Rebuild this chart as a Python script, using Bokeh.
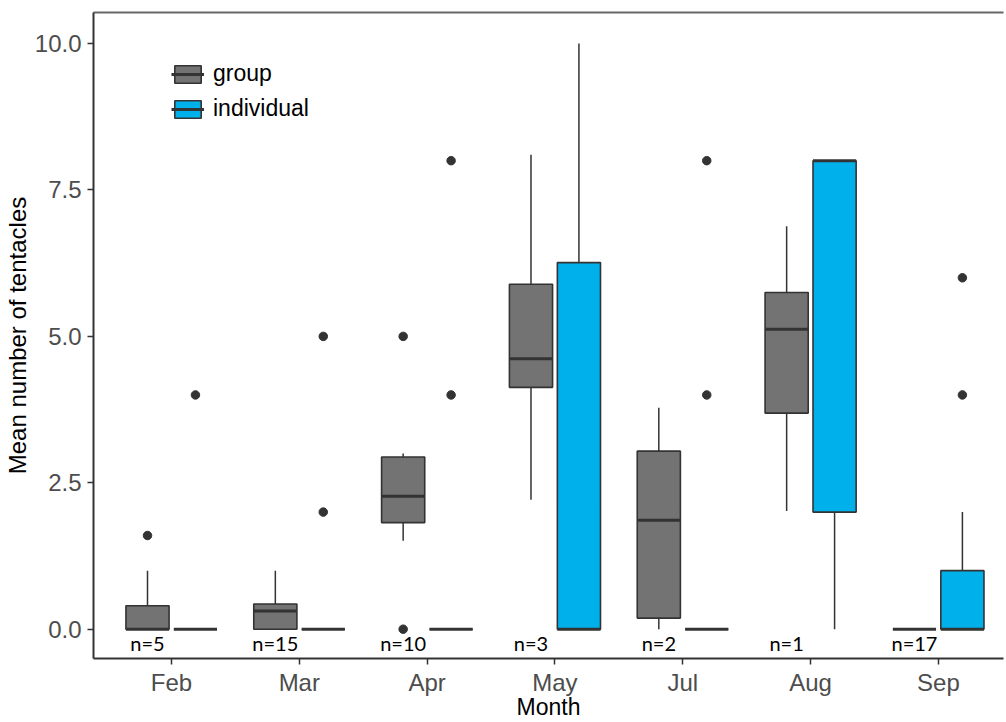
from bokeh.plotting import figure
from bokeh.models import (ColumnDataSource, Range1d, FixedTicker, LinearAxis,
                          Legend, LegendItem)
from bokeh.transform import dodge
from bokeh.core.properties import value
from bokeh.embed import file_html
from bokeh.resources import INLINE

# ---------------- data ----------------
months = ["Feb", "Mar", "Apr", "May", "Jul", "Aug", "Sep"]
n_counts = [5, 15, 10, 3, 2, 1, 17]

group_lower_whisker = [0.0, 0.0, 1.51, 2.21, 0.0, 2.02, 0.0]
group_q1 = [0.0, 0.0, 1.82, 4.13, 0.19, 3.69, 0.0]
group_median = [0.0, 0.31, 2.27, 4.62, 1.86, 5.12, 0.0]
group_q3 = [0.40, 0.43, 2.94, 5.89, 3.04, 5.75, 0.0]
group_upper_whisker = [1.0, 1.0, 3.0, 8.1, 3.78, 6.88, 0.0]

indiv_lower_whisker = [0.0, 0.0, 0.0, 0.0, 0.0, 0.0, 0.0]
indiv_q1 = [0.0, 0.0, 0.0, 0.0, 0.0, 2.0, 0.0]
indiv_median = [0.0, 0.0, 0.0, 0.0, 0.0, 8.0, 0.0]
indiv_q3 = [0.0, 0.0, 0.0, 6.26, 0.0, 8.0, 1.0]
indiv_upper_whisker = [0.0, 0.0, 0.0, 10.0, 0.0, 8.0, 2.0]

group_outlier_month = ["Feb", "Apr", "Apr"]
group_outlier_value = [1.6, 0.0, 5.0]
indiv_outlier_month = ["Feb", "Mar", "Mar", "Apr", "Apr", "Jul", "Jul", "Sep", "Sep"]
indiv_outlier_value = [4.0, 2.0, 5.0, 4.0, 8.0, 4.0, 8.0, 4.0, 6.0]

y_ticks = [0.0, 2.5, 5.0, 7.5, 10.0]

# ---------------- styling ----------------
GROUP_FILL = "#737373"
INDIV_FILL = "#00B0EB"
EDGE = "#333333"
FONT = "Liberation Sans"
DODGE = 0.1875
BOX_W = 0.3375

pos = {m: i + 1 for i, m in enumerate(months)}

p = figure(width=1006, height=722,
           x_range=Range1d(0.39, 7.509), y_range=Range1d(-0.5, 10.53),
           output_backend="svg", toolbar_location=None,
           min_border_left=93, min_border_right=3, min_border_top=12,
           min_border_bottom=64,
           x_axis_label="Month", y_axis_label="Mean number of tentacles")
p.xgrid.visible = False
p.ygrid.visible = False
p.outline_line_color = None
p.outline_line_alpha = 0
p.background_fill_color = "white"
p.border_fill_color = "white"

series = [
    ("group", -DODGE, GROUP_FILL, group_lower_whisker, group_q1, group_median,
     group_q3, group_upper_whisker, group_outlier_month, group_outlier_value),
    ("individual", DODGE, INDIV_FILL, indiv_lower_whisker, indiv_q1, indiv_median,
     indiv_q3, indiv_upper_whisker, indiv_outlier_month, indiv_outlier_value),
]

legend_items = []
for (name, off, fill, lo, q1, med, q3, hi, om, ov) in series:
    src = ColumnDataSource(dict(x=[pos[m] for m in months], lo=lo, q1=q1,
                                med=med, q3=q3, hi=hi))
    xd = dodge("x", off)
    p.segment(x0=xd, x1=xd, y0="q3", y1="hi", source=src,
              line_color=EDGE, line_width=1.5)
    p.segment(x0=xd, x1=xd, y0="lo", y1="q1", source=src,
              line_color=EDGE, line_width=1.5)
    # legend-only whisker key (vertical span with no data)
    rwkey = p.vspan(x=[], line_color=EDGE, line_width=1.5)
    rbox = p.vbar(x=xd, width=BOX_W, bottom="q1", top="q3", source=src,
                  fill_color=fill, line_color=EDGE, line_width=1.6)
    rmed = p.segment(x0=dodge("x", off - BOX_W / 2), x1=dodge("x", off + BOX_W / 2),
                     y0="med", y1="med", source=src,
                     line_color=EDGE, line_width=3)
    osrc = ColumnDataSource(dict(x=[pos[m] for m in om], y=ov))
    p.scatter(x=dodge("x", off), y="y", source=osrc, size=8.5,
              fill_color=EDGE, line_color=EDGE)
    legend_items.append(LegendItem(label=name, renderers=[rwkey, rbox, rmed]))

# n labels
nsrc = ColumnDataSource(dict(x=[pos[m] for m in months], y=[-0.24] * len(months),
                             t=["n=%d" % n for n in n_counts]))
p.text(x=dodge("x", -DODGE), y="y", text="t", source=nsrc,
       text_font=value("Lato"), text_font_size="20px", text_color="black",
       text_align="center", text_baseline="middle")

# axes
p.xaxis.ticker = FixedTicker(ticks=[pos[m] for m in months])
p.xaxis.major_label_overrides = {pos[m]: m for m in months}
p.yaxis.ticker = FixedTicker(ticks=y_ticks)
p.yaxis.major_label_overrides = {t: "%.1f" % t for t in y_ticks}
for ax in (p.xaxis[0], p.yaxis[0]):
    ax.axis_line_color = "#333333"
    ax.axis_line_width = 2
    ax.major_tick_line_color = "#333333"
    ax.major_tick_line_width = 1.5
    ax.major_tick_out = 6
    ax.major_tick_in = 0
    ax.minor_tick_out = 0
    ax.minor_tick_in = 0
    ax.major_label_text_font = FONT
    ax.major_label_text_font_size = "24px"
    ax.major_label_text_color = "#4D4D4D"
    ax.axis_label_text_font = FONT
    ax.axis_label_text_font_style = "normal"
    ax.axis_label_text_color = "black"
p.xaxis.axis_label_text_font_size = "23px"
p.yaxis.axis_label_text_font_size = "24px"
p.xaxis.major_label_standoff = 4
p.xaxis.axis_label_standoff = -5
p.yaxis.major_label_standoff = 6
p.yaxis.axis_label_standoff = 1

top = LinearAxis(ticker=FixedTicker(ticks=[]), axis_line_color="#666666",
                 axis_line_width=2, major_tick_out=0, major_tick_in=0,
                 minor_tick_out=0, minor_tick_in=0,
                 major_label_text_font_size="0px", major_label_standoff=0)
p.add_layout(top, "above")

legend = Legend(items=legend_items, location=(78, 536), orientation="vertical",
                background_fill_alpha=0, border_line_color=None,
                label_text_font=FONT, label_text_font_size="23px",
                label_text_color="black", glyph_width=33, glyph_height=22,
                label_standoff=9, spacing=8, padding=0, margin=0)
p.add_layout(legend)

open("out.html", "w").write(file_html(p, INLINE))
